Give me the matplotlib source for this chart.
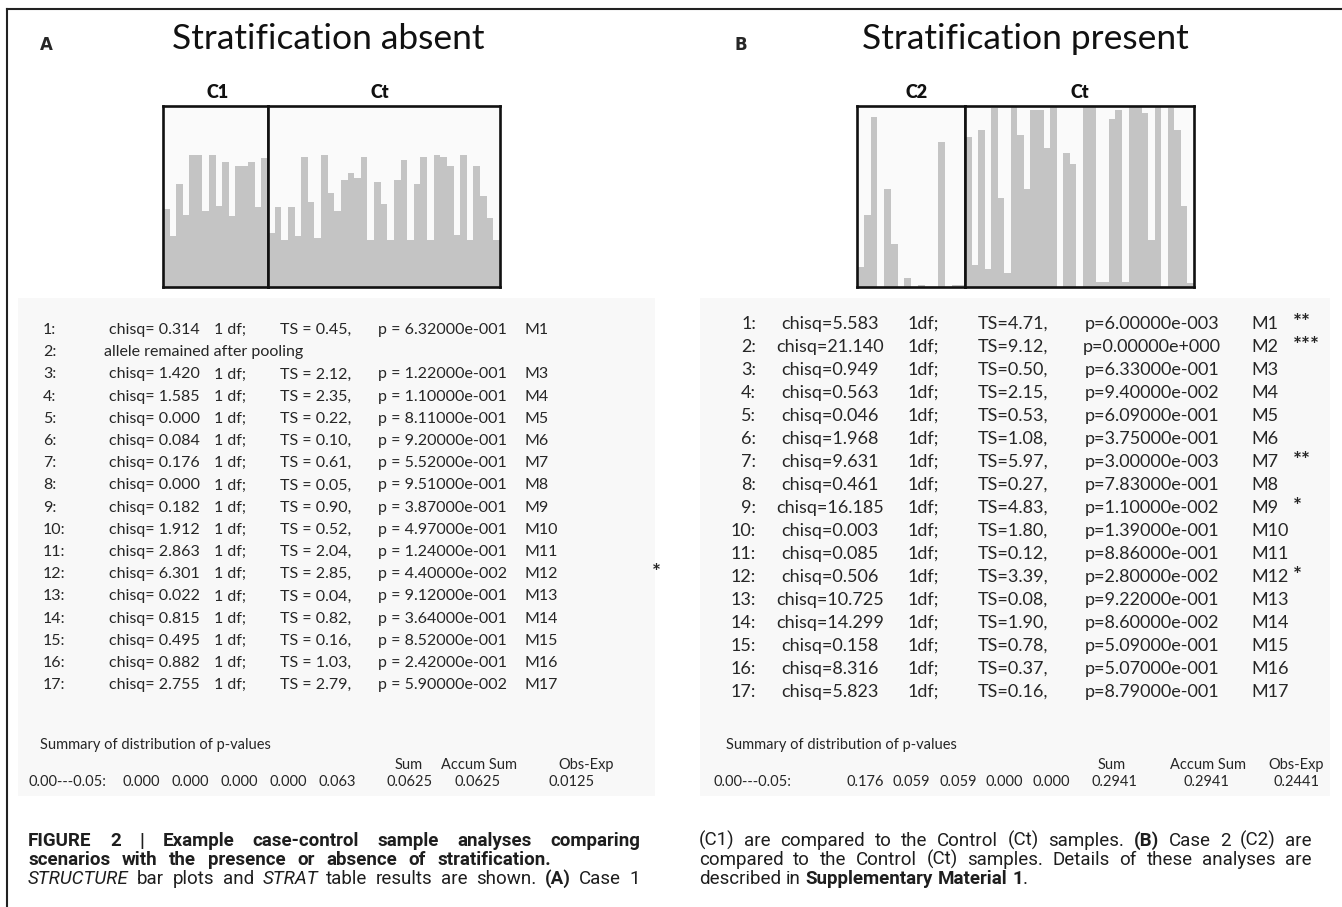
import numpy as np
import matplotlib.pyplot as plt
from matplotlib.lines import Line2D
from matplotlib.patches import Rectangle

W, H = 1342, 907

# STRUCTURE bar plots: fraction of the grey cluster per individual
c1_vals = [0.43, 0.28, 0.57, 0.40, 0.73, 0.73, 0.42, 0.73, 0.45, 0.69, 0.39, 0.67, 0.67, 0.69, 0.44, 0.71]
cta_vals = [0.30, 0.44, 0.26, 0.44, 0.28, 0.72, 0.47, 0.27, 0.73, 0.52, 0.42, 0.59, 0.63, 0.60, 0.72, 0.26, 0.58, 0.46,
            0.26, 0.59, 0.70, 0.26, 0.57, 0.72, 0.26, 0.73, 0.72, 0.67, 0.29, 0.73, 0.26, 0.67, 0.50, 0.38, 0.26]
c2_vals = [0.11, 0.40, 0.94, 0.0, 0.54, 0.24, 0.0, 0.05, 0.0, 0.01, 0.0, 0.0, 0.80, 0.0, 0.01, 0.01]
ctb_vals = [0.83, 0.12, 0.87, 0.10, 0.99, 0.49, 0.08, 1.0, 0.84, 0.54, 0.98, 0.98, 0.77, 1.0, 0.0, 0.74, 0.68, 0.0,
            1.0, 1.0, 0.03, 0.03, 0.93, 0.98, 0.03, 1.0, 1.0, 0.96, 0.26, 1.0, 0.0, 0.99, 0.87, 0.45, 0.02]

# STRAT table, panel A (None = allele remained after pooling)
a_chisq = [0.314, None, 1.420, 1.585, 0.000, 0.084, 0.176, 0.000, 0.182, 1.912, 2.863, 6.301, 0.022, 0.815, 0.495, 0.882, 2.755]
a_ts = [0.45, None, 2.12, 2.35, 0.22, 0.10, 0.61, 0.05, 0.90, 0.52, 2.04, 2.85, 0.04, 0.82, 0.16, 1.03, 2.79]
a_p = [0.632, None, 0.122, 0.110, 0.811, 0.920, 0.552, 0.951, 0.387, 0.497, 0.124, 0.044, 0.912, 0.364, 0.852, 0.242, 0.059]
a_stars = ['', '', '', '', '', '', '', '', '', '', '', '*', '', '', '', '', '']

# STRAT table, panel B
b_chisq = [5.583, 21.140, 0.949, 0.563, 0.046, 1.968, 9.631, 0.461, 16.185, 0.003, 0.085, 0.506, 10.725, 14.299, 0.158, 8.316, 5.823]
b_ts = [4.71, 9.12, 0.50, 2.15, 0.53, 1.08, 5.97, 0.27, 4.83, 1.80, 0.12, 3.39, 0.08, 1.90, 0.78, 0.37, 0.16]
b_p = [0.006, 0.0, 0.633, 0.094, 0.609, 0.375, 0.003, 0.783, 0.011, 0.139, 0.886, 0.028, 0.922, 0.086, 0.509, 0.507, 0.879]
b_stars = ['**', '***', '', '', '', '', '**', '', '*', '', '', '*', '', '', '', '', '']

# summary of p-value distribution
a_bins = [0.000, 0.000, 0.000, 0.000, 0.063]
a_sums = [0.0625, 0.0625, 0.0125]
b_bins = [0.176, 0.059, 0.059, 0.000, 0.000]
b_sums = [0.2941, 0.2941, 0.2441]


def sci(v):
    if v == 0:
        return '0.00000e+000'
    e = int(np.floor(np.log10(v) + 1e-9))
    m = v / 10.0 ** e
    return '%.5fe%s%03d' % (m, '-' if e < 0 else '+', abs(e))


fig = plt.figure(figsize=(W / 100, H / 100), dpi=100)
fig.patch.set_facecolor('white')


def tx(x, y, s, **kw):
    kw.setdefault('va', 'center')
    kw.setdefault('family', 'Lato')
    kw.setdefault('color', '#262626')
    return fig.text(x / W, 1 - y / H, s, **kw)


def bar_ax(x0, x1, y0, y1, vals):
    ax = fig.add_axes([x0 / W, 1 - y1 / H, (x1 - x0) / W, (y1 - y0) / H])
    ax.bar(np.arange(len(vals)), vals, width=1.0, color='#c4c4c4', linewidth=0)
    ax.set_xlim(-0.5, len(vals) - 0.5)
    ax.set_ylim(0, 1)
    ax.set_facecolor('#fafafa')
    ax.set_xticks([])
    ax.set_yticks([])
    for s in ax.spines.values():
        s.set_linewidth(1.9)
        s.set_color('#111111')
    return ax


# frame and the light backdrop of the two STRAT screenshots
fig.add_artist(Line2D([7 / W, 1], [1 - 9 / H, 1 - 9 / H], transform=fig.transFigure, color='#222', lw=1.5))
fig.add_artist(Line2D([7 / W, 7 / W], [0, 1 - 9 / H], transform=fig.transFigure, color='#222', lw=1.5))
for x0, x1 in [(18, 655), (700, 1330)]:
    fig.add_artist(Rectangle((x0 / W, 1 - 796 / H), (x1 - x0) / W, 498 / H, transform=fig.transFigure,
                             facecolor='#f8f8f8', edgecolor='none', zorder=0))

# headings
tx(40, 45, 'A', fontsize=12, fontweight='bold', family='DejaVu Sans')
tx(735, 45, 'B', fontsize=12, fontweight='bold', family='DejaVu Sans')
tx(172, 49, 'Stratification absent', fontsize=25.5, va='baseline', color='#111')
tx(862, 49, 'Stratification present', fontsize=25.5, va='baseline', color='#111')

box_top, box_bot = 106, 287
tx(218, 93, 'C1', fontsize=13, fontweight='heavy', ha='center', color='#111')
tx(380, 93, 'Ct', fontsize=13, fontweight='heavy', ha='center', color='#111')
tx(917, 93, 'C2', fontsize=13, fontweight='heavy', ha='center', color='#111')
tx(1080, 93, 'Ct', fontsize=13, fontweight='heavy', ha='center', color='#111')

bar_ax(163, 268, box_top, box_bot, c1_vals)
bar_ax(268, 500, box_top, box_bot, cta_vals)
bar_ax(857, 965, box_top, box_bot, c2_vals)
bar_ax(965, 1194, box_top, box_bot, ctb_vals)

# tables
for i in range(17):
    y = 330 + i * 22.2
    tx(43, y, '%d:' % (i + 1), fontsize=11.5)
    if a_chisq[i] is None:
        tx(104, y, 'allele remained after pooling', fontsize=11.5)
    else:
        tx(109, y, 'chisq= %.3f' % a_chisq[i], fontsize=11.5)
        tx(214, y, '1 df;', fontsize=11.5)
        tx(280, y, 'TS = %.2f,' % a_ts[i], fontsize=11.5)
        tx(378, y, 'p = ' + sci(a_p[i]), fontsize=11.5)
        tx(525, y, 'M%d' % (i + 1), fontsize=11.5)
    if a_stars[i]:
        tx(652, y - 1, a_stars[i], fontsize=15, fontweight='bold')

    y = 324 + i * 23
    tx(756, y, '%d:' % (i + 1), fontsize=13, ha='right')
    tx(830, y, 'chisq=%.3f' % b_chisq[i], fontsize=13, ha='center')
    tx(908, y, '1df;', fontsize=13)
    tx(978, y, 'TS=%.2f,' % b_ts[i], fontsize=13)
    tx(1152, y, 'p=' + sci(b_p[i]), fontsize=13, ha='center')
    tx(1251, y, 'M%d' % (i + 1), fontsize=13)
    if b_stars[i]:
        tx(1293, y - 1, b_stars[i], fontsize=15, fontweight='bold')

# summaries
heads = ['Sum', 'Accum Sum', 'Obs-Exp']
for x_lab, x_bins, x_head, x_sums, bins, sums in [
        (28, [141, 190, 239, 288, 337], [409, 479, 586], [410, 478, 572], a_bins, a_sums),
        (714, [865, 911, 958, 1004, 1051], [1112, 1208, 1296], [1114, 1206, 1296], b_bins, b_sums)]:
    tx(x_lab + 12, 745, 'Summary of distribution of p-values', fontsize=10.5)
    for x, h in zip(x_head, heads):
        tx(x, 765, h, fontsize=10.5, ha='center')
    tx(x_lab, 782, '0.00---0.05:', fontsize=10.5)
    for x, v in zip(x_bins, bins):
        tx(x, 782, '%.3f' % v, fontsize=10.5, ha='center')
    for x, v in zip(x_sums, sums):
        tx(x, 782, '%.4f' % v, fontsize=10.5, ha='center')

# caption, justified word by word
cap_size = 13.5
renderer = fig.canvas.get_renderer()


def cap_line(x0, x1, y, tokens, justify):
    items = []
    for tok in tokens:
        text, weight, style = tok[:3]
        glue = len(tok) > 3
        t = tx(0, y, text, fontsize=cap_size, fontweight=weight, fontstyle=style, family='Roboto',
               va='baseline', color='#1e1e1e')
        items.append((t, t.get_window_extent(renderer).width, glue))
    total = sum(w for _, w, _ in items)
    ngap = sum(1 for k, (_, _, g) in enumerate(items) if k > 0 and not g)
    gap = max((x1 - x0 - total) / ngap, 3) if justify else cap_size * 0.36
    x = x0
    for k, (t, w, g) in enumerate(items):
        if k > 0 and not g:
            x += gap
        t.set_x(x / W)
        x += w


def words(s, weight='normal', style='normal'):
    return [(w, weight, style) for w in s.split()]


L0, L1, R0, R1 = 28, 640, 699, 1312
cap_line(L0, L1, 846, words('FIGURE 2 | Example case-control sample analyses comparing', 'bold'), True)
cap_line(L0, 551, 865, words('scenarios with the presence or absence of stratification.', 'bold'), True)
cap_line(L0, L1, 884, words('STRUCTURE', style='italic') + words('bar plots and') + words('STRAT', style='italic')
         + words('table results are shown.') + words('(A)', 'bold') + words('Case 1'), True)
cap_line(R0, R1, 846, words('(C1) are compared to the Control (Ct) samples.') + words('(B)', 'bold')
         + words('Case 2 (C2) are'), True)
cap_line(R0, R1, 865, words('compared to the Control (Ct) samples. Details of these analyses are'), True)
cap_line(R0, R1, 884, words('described in') + words('Supplementary Material 1', 'bold') + [('.', 'normal', 'normal', True)], False)

fig.savefig('out.png', dpi=100)
